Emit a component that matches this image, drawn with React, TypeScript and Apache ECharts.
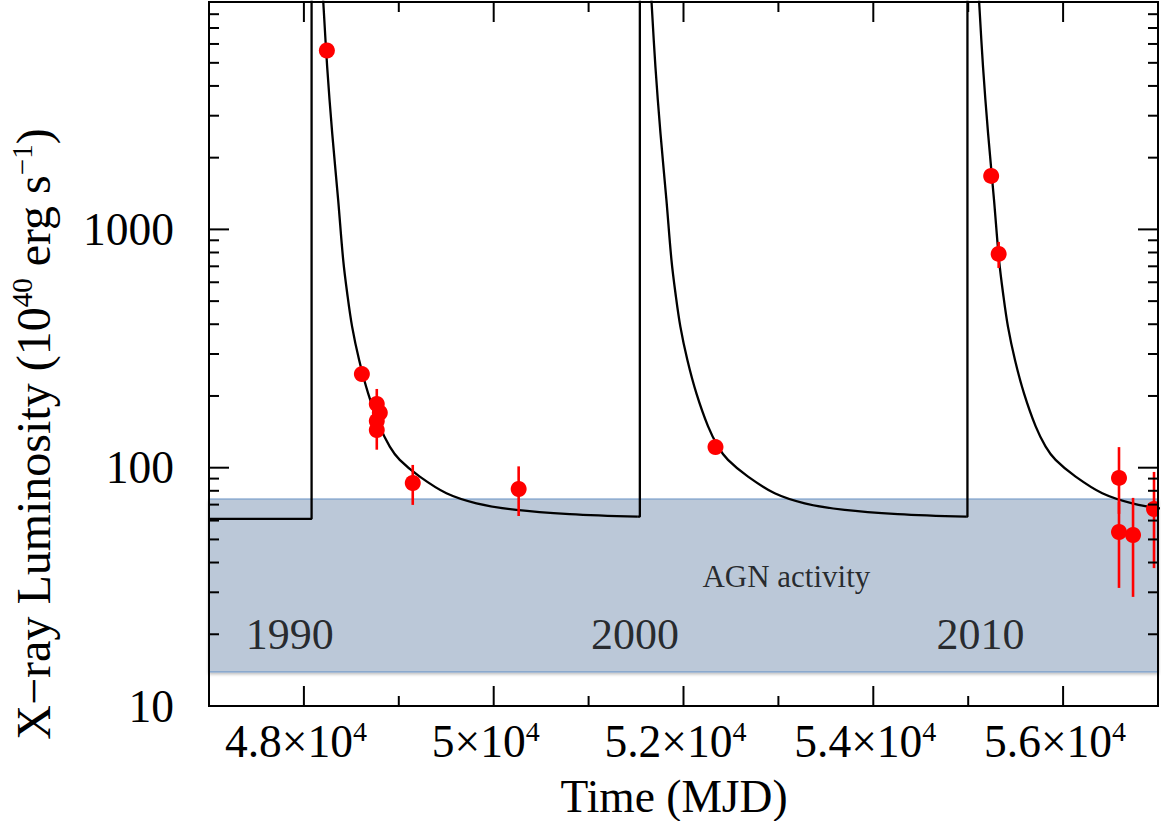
import React, { useEffect, useRef } from 'react';
import * as echarts from 'echarts';

// ---- axes ----
const xRange = [47000, 57000];
const yRange = [10, 9000];
const xTicksMajor = [48000, 50000, 52000, 54000, 56000];
const xTicksMinor = [47000, 49000, 51000, 53000, 55000, 57000];
const yTicksMajor = [10, 100, 1000];
const yTicksMinor = [20, 30, 40, 50, 60, 70, 80, 90, 200, 300, 400, 500, 600, 700, 800, 900, 2000, 3000, 4000, 5000, 6000, 7000, 8000, 9000];

// ---- observations (MJD, luminosity in 1e40 erg/s) ----
const obsMJD = [48242, 48611, 48768, 48800, 48768, 48768, 49147, 50263, 52337, 55242, 55321, 56589, 56589, 56737, 56958];
const obsLum = [5630, 247, 185, 170, 157, 144, 86.3, 81.4, 122, 1677, 789, 90.6, 53.7, 52.2, 67.1];
const obsLumLow = [5630, 247, 160, 148, 135, 119, 69.8, 62.7, 122, 1677, 689, 64, 31.3, 28.7, 37.9];
const obsLumHigh = [5630, 247, 214, 195, 180, 165, 102.7, 101.3, 122, 1677, 886, 122, 72, 74.7, 96];

// ---- periodic flare model ----
const flareStartMJD = [48081, 51540, 54992];
const preFlareLum = [61, 62.3, 62.3];
const peakLum = 100000;
const decayDays = [122, 164, 217, 280, 333, 375, 427, 501, 596, 719, 824, 929, 1140, 1421, 1737, 2158, 2719, 3438];
const decayLum = [9180, 4822, 2541, 1331, 745, 541, 391, 283, 205, 149, 122.6, 107.8, 91.7, 78.1, 70.9, 66.5, 63.9, 62.3];

// ---- AGN band and annotations ----
const agnBand = [13.9, 73.9];
const yearLabels = ['1990', '2000', '2010'];
const yearLabelMJD = [47850, 51490, 55130];
const yearLabelLum = 20;
const agnLabel = 'AGN activity';
const agnLabelPos = [53084, 34.8];

const FONT = "'Liberation Serif', 'Times New Roman', serif";

export default function App() {
  const ref = useRef<HTMLDivElement>(null);
  useEffect(() => {
    if (!ref.current) return;
    const chart = echarts.init(ref.current, undefined, { renderer: 'svg' });

    const lineStyle = { color: '#000', width: 2.3 };
    const modelSeries: any[] = [];
    flareStartMJD.forEach((t0, i) => {
      const prevEnd = i === 0 ? [xRange[0], preFlareLum[0]] : [flareStartMJD[i - 1] + decayDays[decayDays.length - 1], decayLum[decayLum.length - 1]];
      // flat part + vertical rise (straight segments)
      modelSeries.push({
        type: 'line',
        name: 'model',
        z: 2,
        data: [prevEnd, [t0, preFlareLum[i]], [t0, peakLum], [t0 + decayDays[0], decayLum[0]]],
        showSymbol: false,
        symbol: 'none',
        clip: true,
        lineStyle,
      });
      // smooth decay
      modelSeries.push({
        type: 'line',
        name: 'model',
        z: 2,
        data: decayDays.map((d, j) => [t0 + d, decayLum[j]]),
        showSymbol: false,
        symbol: 'none',
        smooth: 0.35,
        clip: true,
        lineStyle,
      });
    });

    const points = obsMJD.map((x, i) => [x, obsLum[i]]);
    const errBars = obsMJD
      .map((x, i) => [x, obsLumLow[i], obsLumHigh[i]])
      .filter((d) => d[1] !== d[2]);

    const labelData = [
      ...yearLabelMJD.map((x, i) => ({
        value: [x, yearLabelLum],
        label: { formatter: yearLabels[i], fontSize: 44, color: '#000' },
      })),
      {
        value: agnLabelPos,
        label: { formatter: agnLabel, fontSize: 31, color: '#000' },
      },
    ];

    const option: any = {
      animation: false,
      grid: { left: 209, top: 2, width: 949, height: 704, containLabel: false },
      xAxis: {
        type: 'value',
        min: xRange[0],
        max: xRange[1],
        interval: 1000,
        axisLine: { show: false },
        axisTick: { show: false },
        splitLine: { show: false },
        axisLabel: {
          margin: 11,
          color: '#000',
          padding: [0, 16, 0, 0],
          formatter: (v: number) =>
            Math.round(v) % 2000 === 0 ? `{b|${Math.round(v) / 10000}×10}{s|4}` : '',
          rich: {
            b: { fontSize: 45.5, lineHeight: 48, fontFamily: FONT, color: '#000' },
            s: { fontSize: 28, lineHeight: 36, verticalAlign: 'top', fontFamily: FONT, color: '#000' },
          },
        },
      },
      yAxis: {
        type: 'log',
        logBase: 10,
        min: yRange[0],
        max: yRange[1],
        axisLine: { show: false },
        axisTick: { show: false },
        splitLine: { show: false },
        axisLabel: {
          margin: 35,
          fontSize: 45.5,
          fontFamily: FONT,
          color: '#000',
          formatter: (v: number) => {
            const l = Math.log10(v);
            return Math.abs(l - Math.round(l)) < 1e-6 ? String(Math.round(v)) : '';
          },
        },
      },
      graphic: [
        {
          type: 'text',
          x: 33,
          y: 434,
          rotation: Math.PI / 2,
          style: {
            text: '{a|X−ray Luminosity (10}{s|40}{a| erg s}{s|−1}{a|)}',
            align: 'center',
            verticalAlign: 'middle',
            rich: {
              a: { fontSize: 48, lineHeight: 52, fontFamily: FONT, fill: '#000' },
              s: { fontSize: 29, lineHeight: 38, verticalAlign: 'top', fontFamily: FONT, fill: '#000' },
            },
          },
        },
        {
          type: 'text',
          x: 674,
          y: 796,
          style: {
            text: 'Time (MJD)',
            font: `45.5px ${FONT}`,
            fill: '#000',
            align: 'center',
            verticalAlign: 'middle',
          },
        },
      ],
      series: [
        {
          type: 'line',
          name: 'band',
          z: 1,
          data: [],
          markArea: {
            silent: true,
            itemStyle: {
              color: '#bbc8d8',
              borderColor: '#6b93c6',
              borderWidth: 1,
              shadowBlur: 3,
              shadowOffsetY: 2,
              shadowColor: 'rgba(0,0,0,0.25)',
            },
            data: [[{ coord: [xRange[0], agnBand[0]] }, { coord: [xRange[1], agnBand[1]] }]],
          },
        },
        ...modelSeries,
        {
          type: 'custom',
          name: 'errors',
          z: 3,
          clip: false,
          data: errBars,
          encode: { x: 0, y: [1, 2] },
          renderItem: (params: any, api: any) => {
            const x = api.value(0);
            const p1 = api.coord([x, api.value(1)]);
            const p2 = api.coord([x, api.value(2)]);
            return {
              type: 'line',
              shape: { x1: p1[0], y1: p1[1], x2: p2[0], y2: p2[1] },
              style: { stroke: '#ff0000', lineWidth: 2.6 },
            };
          },
        },
        {
          type: 'custom',
          name: 'data',
          z: 4,
          clip: true,
          data: points,
          encode: { x: 0, y: 1 },
          renderItem: (params: any, api: any) => {
            const p = api.coord([api.value(0), api.value(1)]);
            return {
              type: 'circle',
              shape: { cx: p[0], cy: p[1], r: 8 },
              style: { fill: '#ff0000' },
            };
          },
        },
        {
          type: 'scatter',
          name: 'labels',
          z: 5,
          data: labelData,
          symbolSize: 1,
          itemStyle: { color: 'rgba(0,0,0,0)' },
          label: { show: true, position: 'inside', color: '#000', fontFamily: FONT },
          silent: true,
        },
        {
          type: 'custom',
          name: 'frame',
          z: 10,
          clip: false,
          silent: true,
          data: [[xRange[0], yRange[0]]],
          renderItem: (params: any, api: any) => {
            const cs = params.coordSys;
            const left = cs.x;
            const top = cs.y;
            const right = cs.x + cs.width;
            const bottom = cs.y + cs.height;
            const st = { stroke: '#000', lineWidth: 2 };
            const children: any[] = [];
            const addY = (v: number, len: number) => {
              const y = api.coord([xRange[0], v])[1];
              children.push({ type: 'line', shape: { x1: left, y1: y, x2: left + len, y2: y }, style: st });
              children.push({ type: 'line', shape: { x1: right - len, y1: y, x2: right, y2: y }, style: st });
            };
            const addX = (v: number, len: number) => {
              const x = api.coord([v, yRange[0]])[0];
              children.push({ type: 'line', shape: { x1: x, y1: bottom, x2: x, y2: bottom - len }, style: st });
              children.push({ type: 'line', shape: { x1: x, y1: top, x2: x, y2: top + len }, style: st });
            };
            yTicksMajor.forEach((v) => addY(v, 20));
            yTicksMinor.forEach((v) => addY(v, 10));
            xTicksMajor.forEach((v) => addX(v, 20));
            xTicksMinor.forEach((v) => addX(v, 10));
            children.push({
              type: 'rect',
              shape: { x: left, y: top, width: cs.width, height: cs.height },
              style: { fill: 'none', stroke: '#000', lineWidth: 2 },
            });
            return { type: 'group', children };
          },
        },
      ],
    };
    chart.setOption(option);
    return () => chart.dispose();
  }, []);
  return (
    <div
      ref={ref}
      style={{ position: 'absolute', left: 0, top: 0, width: 1161, height: 821, background: '#fff' }}
    />
  );
}
